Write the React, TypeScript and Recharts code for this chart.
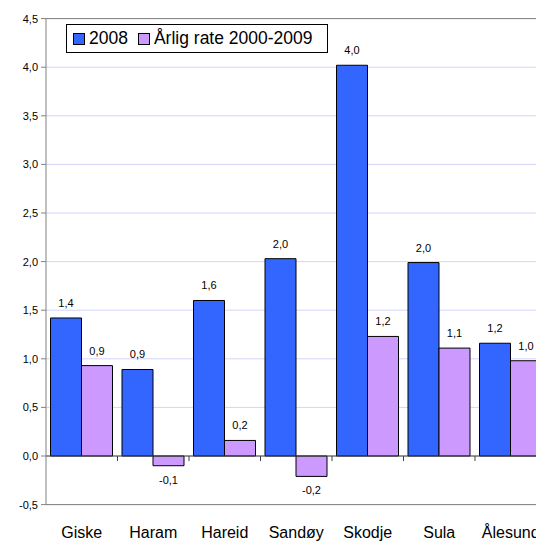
import React from 'react';
import { BarChart, Bar, XAxis, YAxis, CartesianGrid, ReferenceLine, LabelList, Legend } from 'recharts';

const categories = ['Giske', 'Haram', 'Hareid', 'Sandøy', 'Skodje', 'Sula', 'Ålesund'];
const values2008 = [1.42, 0.89, 1.6, 2.03, 4.02, 1.99, 1.16];
const valuesRate = [0.93, -0.1, 0.16, -0.21, 1.23, 1.11, 0.98];
const yTicks = [-0.5, 0, 0.5, 1, 1.5, 2, 2.5, 3, 3.5, 4, 4.5];
const seriesNames = ['2008', 'Årlig rate 2000-2009'];
const seriesColors = ['#3366FF', '#CC99FF'];

const data = categories.map((c, i) => ({ name: c, a: values2008[i], b: valuesRate[i] }));

const FONT = '"Liberation Sans", Arial, sans-serif';
const fmt = (v: number) => v.toFixed(1).replace('.', ',');

const ValueLabel = (props: any) => {
  const { x, y, width, height, value } = props;
  const top = Math.min(y, y + height);
  const bottom = Math.max(y, y + height);
  const cy = value < 0 ? bottom + 14 : top - 15;
  return (
    <text x={x + width / 2} y={cy} textAnchor="middle" dominantBaseline="central" fontSize={11} fill="#000" fontFamily={FONT}>
      {fmt(value)}
    </text>
  );
};

const ZeroLine = (props: any) => {
  const { x1, y1, x2, y2 } = props;
  const n = categories.length;
  const step = (x2 - x1) / n;
  const ticks = [];
  for (let i = 1; i < n; i++) {
    const tx = x1 + step * i;
    ticks.push(<line key={i} x1={tx} x2={tx} y1={y1} y2={y1 + 5} stroke="#404040" strokeWidth={1} />);
  }
  return (
    <g>
      <line x1={x1} y1={y1} x2={x2} y2={y2} stroke="#404040" strokeWidth={1} />
      {ticks}
    </g>
  );
};

const CatTick = (props: any) => {
  const { x, y, payload } = props;
  return (
    <text x={x} y={y + 31} textAnchor="middle" fontSize={16} fill="#000" fontFamily={FONT}>
      {payload.value}
    </text>
  );
};

const LegendBox = () => (
  <div
    style={{
      display: 'flex',
      alignItems: 'center',
      border: '1px solid #000',
      background: '#fff',
      height: 27,
      padding: '0 14px 0 6px',
      fontFamily: FONT,
      fontSize: 17.5,
      color: '#000',
      whiteSpace: 'nowrap',
    }}
  >
    {seriesNames.map((n, i) => (
      <div key={n} style={{ display: 'flex', alignItems: 'center', marginLeft: i === 0 ? 0 : 10 }}>
        <span
          style={{
            display: 'inline-block',
            width: 10,
            height: 10,
            background: seriesColors[i],
            border: '1px solid #000',
            marginRight: 4,
          }}
        />
        <span>{n}</span>
      </div>
    ))}
  </div>
);

export default function App() {
  return (
    <div style={{ position: 'absolute', left: 0, top: 0, width: 536, height: 541, overflow: 'hidden', background: '#fff' }}>
      <BarChart
        width={547}
        height={541}
        data={data}
        margin={{ top: 18.6, right: 0.5, left: 0, bottom: 0 }}
        barCategoryGap={4.5}
        barGap={0}
      >
        <CartesianGrid vertical={false} stroke="#d4d4fa" />
        <XAxis dataKey="name" height={36.4} axisLine={false} tickLine={false} tickSize={0} tick={<CatTick />} interval={0} />
        <YAxis
          width={46}
          domain={[-0.5, 4.5]}
          ticks={yTicks}
          tickFormatter={fmt}
          axisLine={{ stroke: '#808080' }}
          tickLine={{ stroke: '#808080' }}
          tickSize={5}
          tickMargin={3}
          tick={{ fontSize: 11, fill: '#000', fontFamily: FONT }}
          interval={0}
        />
        <ReferenceLine y={4.5} stroke="#808080" />
        <ReferenceLine y={-0.5} stroke="#808080" />
        <Bar dataKey="a" name={seriesNames[0]} fill={seriesColors[0]} stroke="#000" strokeWidth={1} isAnimationActive={false}>
          <LabelList dataKey="a" content={<ValueLabel />} />
        </Bar>
        <Bar dataKey="b" name={seriesNames[1]} fill={seriesColors[1]} stroke="#000" strokeWidth={1} isAnimationActive={false}>
          <LabelList dataKey="b" content={<ValueLabel />} />
        </Bar>
        <ReferenceLine y={0} shape={<ZeroLine />} />
        <Legend
          verticalAlign="middle"
          layout="horizontal"
          content={<LegendBox />}
          wrapperStyle={{ top: 24, left: 66, width: 'auto', height: 'auto' }}
        />
      </BarChart>
    </div>
  );
}
